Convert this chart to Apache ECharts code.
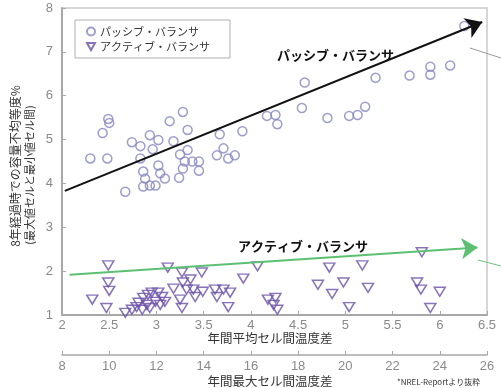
<!DOCTYPE html>
<html><head><meta charset="utf-8">
<script src="https://cdn.jsdelivr.net/npm/echarts@6/dist/echarts.min.js"></script>
<style>html,body{margin:0;padding:0;background:#fff}#c{width:501px;height:388px}</style>
</head><body><div id="c"></div>
<script>
// ---- data ----
const seriesNames = ['パッシブ・バランサ', 'アクティブ・バランサ'];
const passiveX = [2.30,2.48,2.43,2.49,2.50,2.67,2.74,2.83,2.83,2.93,3.02,2.96,3.14,3.18,2.86,2.88,2.93,2.86,3.02,3.04,3.09,2.99,3.28,3.33,3.25,3.33,3.30,3.38,3.45,3.45,3.28,3.24,3.67,3.91,3.71,3.64,3.76,3.83,4.17,4.26,4.28,4.57,4.54,4.81,5.04,5.13,5.21,5.32,5.68,5.90,5.90,6.11,6.26];
const passiveY = [4.57,4.57,5.15,5.47,5.38,3.81,4.94,4.85,4.57,5.10,4.99,4.78,5.42,4.96,4.27,4.11,3.95,3.93,4.41,4.23,4.11,3.95,5.63,5.22,4.66,4.76,4.50,4.50,4.50,4.29,4.34,4.13,5.12,5.19,4.80,4.64,4.57,4.64,5.54,5.56,5.35,6.30,5.72,5.49,5.54,5.56,5.75,6.41,6.46,6.66,6.48,6.69,7.59];
const activeX = [2.32,2.49,2.49,2.50,2.47,2.67,2.74,2.79,2.81,2.85,2.86,2.90,2.91,2.93,2.95,2.99,3.02,3.04,3.06,3.09,3.12,3.18,3.27,3.28,3.32,3.25,3.27,3.39,3.41,3.48,3.36,3.49,3.62,3.64,3.71,3.78,3.76,3.92,4.07,4.18,4.26,4.24,4.28,4.83,5.18,4.71,4.98,5.24,4.86,5.04,5.81,5.76,5.80,6.00,5.90];
const activeY = [1.35,2.13,1.74,1.55,1.16,1.05,1.12,1.18,1.28,1.12,1.39,1.23,1.46,1.16,1.51,1.30,1.51,1.23,1.41,1.30,2.08,1.60,1.97,1.74,1.58,1.35,1.16,1.58,1.41,1.97,1.81,1.53,1.58,1.41,1.58,1.51,1.18,1.83,2.11,1.35,1.39,1.23,1.12,2.08,2.13,1.69,1.74,1.62,1.48,1.18,2.43,1.74,1.58,1.53,1.16];
// trend arrows: [x0, y0, x1, y1]
const passiveTrend = [2.03, 3.83, 6.45, 7.68];
const activeTrend = [2.08, 1.92, 6.40, 2.54];
const xMin = 2, xMax = 6.5, xStep = 0.5;
const x2Min = 8, x2Max = 26, x2Step = 2;
const yMin = 1, yMax = 8, yStep = 1;
const xTitle = '年間平均セル間温度差';
const x2Title = '年間最大セル間温度差';
const yTitle1 = '8年経過時での容量不均等度%';
const yTitle2 = '(最大値セルと最小値セル間)';
const note = '*NREL-Reportより抜粋';

// ---- chart ----
const jp = '"Noto Sans CJK JP", "Noto Sans", sans-serif';
const tickFont = '"Liberation Sans Narrow", "Liberation Sans", sans-serif';
const chart = echarts.init(document.getElementById('c'), null, {renderer: 'canvas'});
const zip = (a, b) => a.map((v, i) => [v, b[i]]);
const axisGray = '#a8a8a8';
const labelGray = '#8a8a8a';

chart.setOption({
  animation: false,
  backgroundColor: '#fff',
  grid: {left: 62, right: 14, top: 8, bottom: 73, show: true, borderColor: '#d6d6d6', borderWidth: 2},
  legend: {
    left: 75, top: 20, orient: 'vertical',
    backgroundColor: '#fff', borderColor: '#b0b0b0', borderWidth: 1,
    padding: [6, 20, 6, 11], itemGap: 4, itemWidth: 8, itemHeight: 8,
    textStyle: {fontFamily: jp, fontSize: 11, color: '#333'},
    data: [
      {name: seriesNames[0], icon: 'circle'},
      {name: seriesNames[1], icon: 'path://M0,0L10,0L5,9Z'}
    ]
  },
  xAxis: [{
    type: 'value', min: xMin, max: xMax, interval: xStep, position: 'bottom',
    axisLine: {lineStyle: {color: axisGray, width: 2}},
    axisTick: {inside: true, length: 4, lineStyle: {color: axisGray}},
    axisLabel: {color: labelGray, fontSize: 13, fontFamily: tickFont, margin: 4},
    splitLine: {show: false}
  }, {
    type: 'value', min: x2Min, max: x2Max, interval: x2Step, position: 'bottom', offset: 40,
    axisLine: {show: true, onZero: false, lineStyle: {color: axisGray, width: 1.5}},
    axisTick: {show: true, inside: true, length: 4, lineStyle: {color: axisGray}},
    axisLabel: {color: labelGray, fontSize: 13, fontFamily: tickFont, margin: 5},
    splitLine: {show: false}
  }],
  yAxis: {
    type: 'value', min: yMin, max: yMax, interval: yStep,
    axisLine: {show: true, lineStyle: {color: axisGray, width: 2}},
    axisTick: {show: true, inside: true, length: 4, lineStyle: {color: axisGray}},
    axisLabel: {color: labelGray, fontSize: 13, fontFamily: tickFont, margin: 9},
    splitLine: {show: false}
  },
  series: [{
    name: seriesNames[0], type: 'scatter', xAxisIndex: 0,
    symbol: 'circle', symbolSize: 9,
    itemStyle: {color: 'rgba(255,255,255,0)', borderColor: '#8486bf', borderWidth: 1.5},
    data: zip(passiveX, passiveY),
    markLine: {
      silent: true, symbol: ['none', 'arrow'], symbolSize: 16,
      label: {show: false},
      lineStyle: {color: '#111', width: 2, type: 'solid'},
      data: [[{coord: [passiveTrend[0], passiveTrend[1]]}, {coord: [passiveTrend[2], passiveTrend[3]]}]]
    }
  }, {
    name: seriesNames[1], type: 'scatter', xAxisIndex: 0,
    symbol: 'triangle', symbolRotate: 180, symbolSize: [11, 9],
    itemStyle: {color: 'rgba(255,255,255,0)', borderColor: '#6b50a6', borderWidth: 1.5},
    data: zip(activeX, activeY),
    markLine: {
      silent: true, symbol: ['none', 'arrow'], symbolSize: 16,
      label: {show: false},
      lineStyle: {color: '#5cbf72', width: 2, type: 'solid'},
      data: [[{coord: [activeTrend[0], activeTrend[1]]}, {coord: [activeTrend[2], activeTrend[3]]}]]
    }
  }],
  graphic: [
    {type: 'text', left: 277, top: 49, style: {text: seriesNames[0], font: 'bold 13px ' + jp, fill: '#111'}},
    {type: 'text', left: 238, top: 240, style: {text: seriesNames[1], font: 'bold 13px ' + jp, fill: '#111'}},
    {type: 'line', shape: {x1: 470, y1: 48, x2: 501, y2: 58}, style: {stroke: '#999', lineWidth: 1}},
    {type: 'line', shape: {x1: 478, y1: 260, x2: 501, y2: 266}, style: {stroke: '#6cc080', lineWidth: 1}},
    {type: 'text', x: 270, y: 338, style: {text: xTitle, font: '12.5px ' + jp, fill: '#333', textAlign: 'center', textVerticalAlign: 'middle'}},
    {type: 'text', x: 270, y: 381, style: {text: x2Title, font: '12.5px ' + jp, fill: '#333', textAlign: 'center', textVerticalAlign: 'middle'}},
    {type: 'text', x: 397, y: 378, style: {text: note, font: '8px ' + jp, fill: '#333'}},
    {type: 'text', x: 15, y: 166, rotation: Math.PI / 2, style: {text: yTitle1, font: '12px ' + jp, fill: '#333', textAlign: 'center', textVerticalAlign: 'middle'}},
    {type: 'text', x: 30, y: 175, rotation: Math.PI / 2, style: {text: yTitle2, font: '11px ' + jp, fill: '#333', textAlign: 'center', textVerticalAlign: 'middle'}}
  ]
});
</script></body></html>
